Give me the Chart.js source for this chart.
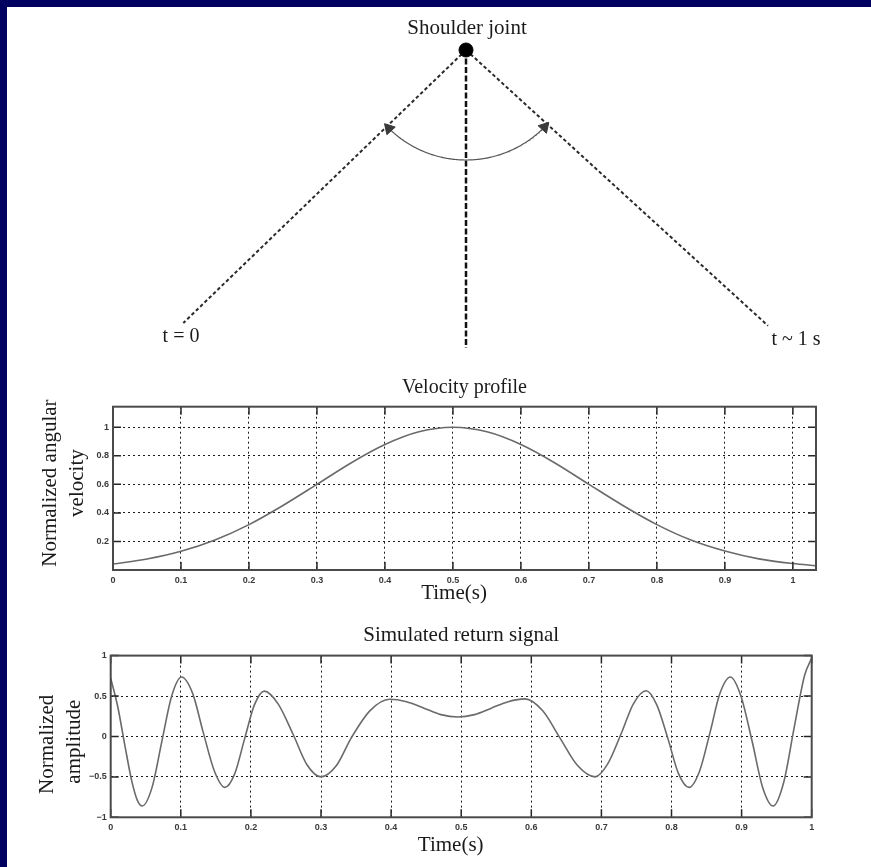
<!DOCTYPE html>
<html>
<head>
<meta charset="utf-8">
<script src="https://cdn.jsdelivr.net/npm/chart.js@4/dist/chart.umd.min.js"></script>
<style>
  html, body { margin: 0; padding: 0; background: #fff; width: 871px; height: 867px; overflow: hidden; }
  .frame-top { position: absolute; left: 0; top: 0; width: 871px; height: 7px; background: #000060; z-index: 5; }
  .frame-left { position: absolute; left: 0; top: 0; width: 7px; height: 867px; background: #000060; z-index: 5; }
  canvas { position: absolute; left: 0; }
  #diagram { top: 0; width: 871px; height: 365px; }
  #velocity { top: 370px; width: 871px; height: 240px; }
  #signal { top: 620px; width: 871px; height: 247px; }
</style>
</head>
<body>
<div class="frame-top"></div>
<div class="frame-left"></div>
<canvas id="diagram" width="871" height="365"></canvas>
<canvas id="velocity" width="871" height="240"></canvas>
<canvas id="signal" width="871" height="247"></canvas>
<script>
const SERIF = '"Liberation Serif", "Times New Roman", serif';
const TICK_FONT = '"Liberation Sans Narrow", "Arial Narrow", "Liberation Sans", sans-serif';

// ---- Arm sweep (joint at origin, y up; angles measured from the downward vertical) ----
const armEndLabels = ['t = 0', 't ~ 1 s'];
const armAnglesDeg = [-46.0, 47.6];
const armLengths = [3.93, 4.09];
const midlineLength = 2.98;
const sweepArcRadius = 1.1;
const sweepArcDeg = [-44.5, 45.5];
const diagramTexts = ['Shoulder joint', armEndLabels[0], armEndLabels[1]];
const diagramTextAnchors = [[0.01, 0.215], [-2.85, -2.87], [3.30, -2.90]];

// ---- Velocity profile ----
const velTime  = [0, 0.05, 0.10, 0.15, 0.20, 0.25, 0.30, 0.35, 0.40, 0.45, 0.50,
                  0.55, 0.60, 0.65, 0.70, 0.75, 0.80, 0.85, 0.90, 0.95, 1.00, 1.034];
const velValue = [0.042, 0.077, 0.131, 0.210, 0.318, 0.452, 0.600, 0.750, 0.879, 0.968, 1.000,
                  0.968, 0.879, 0.750, 0.600, 0.452, 0.318, 0.210, 0.133, 0.078, 0.045, 0.030];
const velXTicks = [0, 0.1, 0.2, 0.3, 0.4, 0.5, 0.6, 0.7, 0.8, 0.9, 1];
const velYTicks = [0.2, 0.4, 0.6, 0.8, 1];

// ---- Simulated return signal ----
const sigTime  = [0, 0.010, 0.020, 0.030, 0.038, 0.045, 0.059, 0.073, 0.087, 0.101,
                  0.117, 0.132, 0.148, 0.163, 0.177, 0.191, 0.205, 0.219, 0.239, 0.260,
                  0.280, 0.300, 0.322, 0.343, 0.370, 0.398, 0.422, 0.447, 0.471, 0.495,
                  0.519, 0.543, 0.567, 0.591, 0.616, 0.641, 0.666, 0.691, 0.709, 0.728,
                  0.746, 0.764, 0.779, 0.795, 0.810, 0.825, 0.840, 0.855, 0.869, 0.884,
                  0.899, 0.915, 0.930, 0.945, 0.960, 0.975, 0.990, 1.000];
const sigValue = [0.72, 0.37, -0.10, -0.55, -0.79, -0.86, -0.63, -0.06, 0.50, 0.735,
                  0.53, 0.05, -0.43, -0.63, -0.46, -0.03, 0.39, 0.56, 0.40, 0.03,
                  -0.35, -0.50, -0.36, -0.02, 0.32, 0.46, 0.43, 0.35, 0.27, 0.24,
                  0.27, 0.35, 0.43, 0.465, 0.32, -0.02, -0.36, -0.50, -0.34, 0.03,
                  0.41, 0.565, 0.39, -0.03, -0.46, -0.63, -0.43, 0.05, 0.53, 0.735,
                  0.50, -0.06, -0.63, -0.86, -0.57, 0.11, 0.76, 0.97];
const sigXTicks = [0, 0.1, 0.2, 0.3, 0.4, 0.5, 0.6, 0.7, 0.8, 0.9, 1];
const sigYTicks = [-1, -0.5, 0, 0.5, 1];

const rad = d => d * Math.PI / 180;
const polar = (r, deg) => ({ x: r * Math.sin(rad(deg)), y: -r * Math.cos(rad(deg)) });
const fmtTick = v => String(Math.round(v * 10) / 10).replace('-', '\u2212');

// ---------- Diagram ----------
const arcPoints = [];
for (let d = sweepArcDeg[0]; d <= sweepArcDeg[1] + 1e-9; d += 0.5) arcPoints.push(polar(sweepArcRadius, d));

const diagramText = {
  id: 'diagramText',
  afterDraw(chart) {
    const { ctx, scales: { x, y } } = chart;
    ctx.save();
    ctx.fillStyle = '#1a1a1a';
    ctx.textAlign = 'center';
    ctx.textBaseline = 'middle';
    diagramTexts.forEach((t, i) => {
      const [ax, ay] = diagramTextAnchors[i];
      ctx.font = (i === 0 ? '21px ' : '20px ') + SERIF;
      ctx.fillText(t, x.getPixelForValue(ax), y.getPixelForValue(ay));
    });
    ctx.restore();
  }
};

// first dataset is painted on top
new Chart(document.getElementById('diagram'), {
  type: 'scatter',
  data: {
    datasets: [
      { data: [{ x: 0, y: 0 }], pointRadius: 7, backgroundColor: '#000', borderColor: '#000' },
      { data: [polar(sweepArcRadius, sweepArcDeg[0]), polar(sweepArcRadius, sweepArcDeg[1])],
        pointStyle: 'triangle', pointRadius: 6.5, pointRotation: [-42, 42],
        backgroundColor: '#3a3a3a', borderColor: '#3a3a3a', borderWidth: 1 },
      { data: arcPoints, showLine: true, borderColor: '#555', borderWidth: 1.2, pointRadius: 0 },
      { data: [{ x: 0, y: 0 }, { x: 0, y: -midlineLength }], showLine: true,
        borderColor: '#111', borderWidth: 2.5, borderDash: [6, 2.5], pointRadius: 0 },
      { data: [{ x: 0, y: 0 }, polar(armLengths[0], armAnglesDeg[0])], showLine: true,
        borderColor: '#2a2a2a', borderWidth: 2, borderDash: [3.5, 2.5], pointRadius: 0 },
      { data: [{ x: 0, y: 0 }, polar(armLengths[1], armAnglesDeg[1])], showLine: true,
        borderColor: '#2a2a2a', borderWidth: 2, borderDash: [3.5, 2.5], pointRadius: 0 }
    ]
  },
  options: {
    responsive: false, animation: false, events: [],
    layout: { padding: 0, autoPadding: false },
    plugins: { legend: { display: false }, tooltip: { enabled: false } },
    scales: {
      x: { type: 'linear', display: false, min: -4.66, max: 4.05 },
      y: { type: 'linear', display: false, min: -3.15, max: 0.5 }
    }
  },
  plugins: [diagramText]
});

// ---------- Box with inward ticks on all four sides ----------
const boxTicks = {
  id: 'boxTicks',
  afterDatasetsDraw(chart, args, opts) {
    const { ctx, chartArea: a, scales: { x, y } } = chart;
    const len = opts.length || 8;
    ctx.save();
    ctx.strokeStyle = '#262626';
    ctx.lineWidth = 1.5;
    ctx.beginPath();
    x.ticks.forEach(t => {
      const px = x.getPixelForValue(t.value);
      ctx.moveTo(px, a.bottom); ctx.lineTo(px, a.bottom - len);
      ctx.moveTo(px, a.top); ctx.lineTo(px, a.top + len);
    });
    y.ticks.forEach(t => {
      const py = y.getPixelForValue(t.value);
      ctx.moveTo(a.left, py); ctx.lineTo(a.left + len, py);
      ctx.moveTo(a.right, py); ctx.lineTo(a.right - len, py);
    });
    ctx.stroke();
    ctx.strokeStyle = '#4a4a4a';
    ctx.lineWidth = 2;
    ctx.strokeRect(a.left, a.top, a.right - a.left, a.bottom - a.top);
    ctx.restore();
  }
};

function plotChart(id, c) {
  return new Chart(document.getElementById(id), {
    type: 'line',
    data: {
      datasets: [{
        data: c.xs.map((t, i) => ({ x: t, y: c.ys[i] })),
        borderColor: '#6a6a6a', borderWidth: 1.6, pointRadius: 0,
        cubicInterpolationMode: 'monotone', fill: false
      }]
    },
    options: {
      responsive: false, animation: false, events: [],
      layout: { padding: { left: 0, right: c.padRight, top: 0, bottom: 0 }, autoPadding: false },
      plugins: {
        legend: { display: false }, tooltip: { enabled: false },
        title: {
          display: true, fullSize: false, text: c.title, color: '#1a1a1a',
          font: { family: SERIF, size: c.titleSize, weight: 'normal', lineHeight: 1.2 },
          padding: { top: c.titleTop, bottom: c.titleBottom }
        },
        boxTicks: { length: 8 }
      },
      scales: {
        x: {
          type: 'linear', min: c.xMin, max: c.xMax,
          afterBuildTicks: s => { s.ticks = c.xTicks.map(v => ({ value: v })); },
          afterFit: s => { s.height = c.xAxisHeight; },
          grid: { color: '#1b1b1b', lineWidth: 1, drawTicks: false },
          border: { display: false, dash: [2, 3] },
          ticks: { padding: 5, color: '#3a3a3a', maxRotation: 0, autoSkip: false,
                   font: { family: TICK_FONT, size: 9, weight: 'bold' }, callback: fmtTick },
          title: { display: true, text: 'Time(s)    ', color: '#1a1a1a',
                   font: { family: SERIF, size: 21, lineHeight: 1.2 },
                   padding: { top: 0, bottom: c.xTitleBottom } }
        },
        y: {
          type: 'linear', min: c.yMin, max: c.yMax,
          afterBuildTicks: s => { s.ticks = c.yTicks.map(v => ({ value: v })); },
          afterFit: s => { s.width = c.yAxisWidth; },
          grid: { color: '#1b1b1b', lineWidth: 1, drawTicks: false },
          border: { display: false, dash: [2, 3] },
          ticks: { padding: 4, color: '#3a3a3a', autoSkip: false,
                   font: { family: TICK_FONT, size: 9, weight: 'bold' }, callback: fmtTick },
          title: { display: true, text: c.yTitle, color: '#1a1a1a',
                   font: { family: SERIF, size: 21, lineHeight: 1.3 },
                   padding: { top: c.yTitleTop, bottom: 0 } }
        }
      }
    },
    plugins: [boxTicks]
  });
}

plotChart('velocity', {
  xs: velTime, ys: velValue, xTicks: velXTicks, yTicks: velYTicks,
  xMin: 0, xMax: 1.034, yMin: 0, yMax: 1.144,
  title: 'Velocity profile', titleSize: 20, titleTop: 6, titleBottom: 6.7,
  yTitle: ['  Normalized angular', '  velocity'], yTitleTop: 36.4,
  padRight: 55, yAxisWidth: 113, xAxisHeight: 40, xTitleBottom: 3.9
});

plotChart('signal', {
  xs: sigTime, ys: sigValue, xTicks: sigXTicks, yTicks: sigYTicks,
  xMin: 0, xMax: 1, yMin: -1, yMax: 1,
  title: 'Simulated return signal', titleSize: 21, titleTop: 2.4, titleBottom: 8,
  yTitle: ['Normalized   ', 'amplitude  '], yTitleTop: 33.4,
  padRight: 59.3, yAxisWidth: 110.7, xAxisHeight: 49.7, xTitleBottom: 9.3
});
</script>
</body>
</html>
